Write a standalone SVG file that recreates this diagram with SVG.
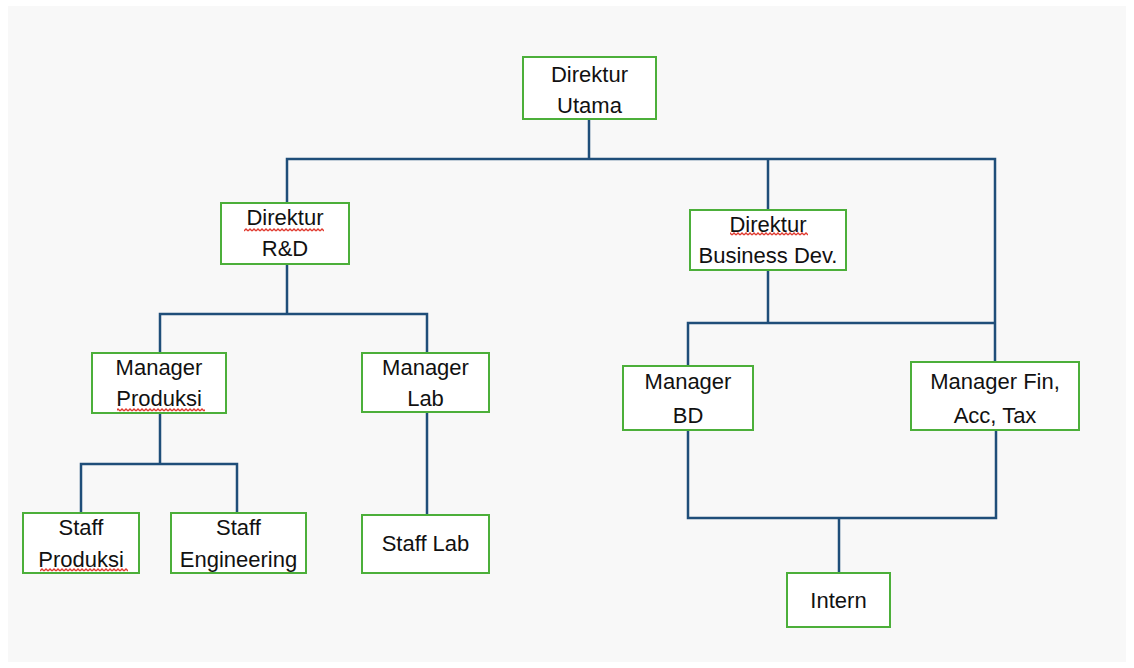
<svg xmlns="http://www.w3.org/2000/svg" width="1134" height="668" viewBox="0 0 1134 668">
<style>
.box{fill:#ffffff;stroke:#4caf3a;stroke-width:2}
.t{font-family:"Liberation Sans",Arial,sans-serif;font-size:22px;fill:#111111;text-anchor:middle}
.c{fill:none;stroke:#1f4e79;stroke-width:2.5}
</style>
<defs>
<pattern id="wavy" width="4" height="4" patternUnits="userSpaceOnUse">
<path d="M0 3 L2 1 L4 3" fill="none" stroke="#e03a2f" stroke-width="1.3"/>
</pattern>
</defs>
<rect x="0" y="0" width="1134" height="668" fill="#ffffff"/>
<rect x="8" y="6" width="1118" height="656" fill="#f8f8f8"/>
<g id="connectors">
<path class="c" d="M589 119 V159 M287 203 V159 H995 V323 M768 159 V210"/>
<path class="c" d="M287 264 V314 M160 353 V314 H427 V353"/>
<path class="c" d="M768 270 V323 M688 366 V323 H995 M995 323 V362"/>
<path class="c" d="M160 413 V464 M81 513 V464 H237 V513"/>
<path class="c" d="M427 412 V515"/>
<path class="c" d="M688 430 V518 H996 V430 M839 518 V573"/>
</g>
<g id="direktur-utama"><rect class="box" x="523" y="57" width="133" height="62"/><text class="t" x="589.5" y="82">Direktur</text><text class="t" x="589.5" y="113">Utama</text></g>
<g id="direktur-rd"><rect class="box" x="221" y="203" width="128" height="61"/><text class="t" x="285" y="225">Direktur</text><text class="t" x="285" y="256">R&amp;D</text><rect x="244" y="228" width="80" height="4" fill="url(#wavy)"/></g>
<g id="direktur-bd"><rect class="box" x="690" y="210" width="156" height="60"/><text class="t" x="768" y="232">Direktur</text><text class="t" x="768" y="263">Business Dev.</text><rect x="730" y="232" width="78" height="4" fill="url(#wavy)"/></g>
<g id="manager-produksi"><rect class="box" x="92" y="353" width="134" height="60"/><text class="t" x="159" y="375">Manager</text><text class="t" x="159" y="406">Produksi</text><rect x="117" y="408" width="88" height="4" fill="url(#wavy)"/></g>
<g id="manager-lab"><rect class="box" x="362" y="353" width="127" height="59"/><text class="t" x="425.5" y="375">Manager</text><text class="t" x="425.5" y="406">Lab</text></g>
<g id="manager-bd"><rect class="box" x="623" y="366" width="130" height="64"/><text class="t" x="688" y="389">Manager</text><text class="t" x="688" y="423">BD</text></g>
<g id="manager-fin"><rect class="box" x="911" y="362" width="168" height="68"/><text class="t" x="995" y="389">Manager Fin,</text><text class="t" x="995" y="423">Acc, Tax</text></g>
<g id="staff-produksi"><rect class="box" x="23" y="513" width="116" height="60"/><text class="t" x="81" y="535">Staff</text><text class="t" x="81" y="567">Produksi</text><rect x="40" y="568" width="88" height="4" fill="url(#wavy)"/></g>
<g id="staff-engineering"><rect class="box" x="171" y="513" width="135" height="60"/><text class="t" x="238.5" y="535">Staff</text><text class="t" x="238.5" y="567">Engineering</text></g>
<g id="staff-lab"><rect class="box" x="362" y="515" width="127" height="58"/><text class="t" x="425.5" y="551">Staff Lab</text></g>
<g id="intern"><rect class="box" x="787" y="573" width="103" height="54"/><text class="t" x="838.5" y="608">Intern</text></g>
</svg>
